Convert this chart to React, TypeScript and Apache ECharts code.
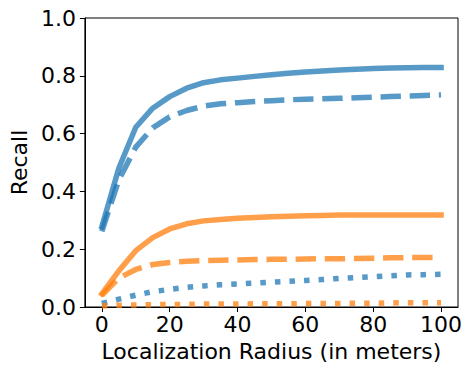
import React, { useEffect, useRef } from "react";
import * as echarts from "echarts";

const radii = [0, 5, 10, 15, 20, 25, 30, 35, 40, 45, 50, 55, 60, 65, 70, 75, 80, 85, 90, 95, 100];
const blueSolid = [0.278, 0.48, 0.622, 0.688, 0.728, 0.757, 0.776, 0.786, 0.792, 0.798, 0.804, 0.809, 0.813, 0.817, 0.82, 0.823, 0.825, 0.827, 0.828, 0.829, 0.829];
const blueDashed = [0.262, 0.44, 0.553, 0.62, 0.658, 0.68, 0.695, 0.703, 0.707, 0.711, 0.714, 0.717, 0.719, 0.721, 0.722, 0.724, 0.726, 0.728, 0.73, 0.732, 0.734];
const blueDotted = [0.012, 0.027, 0.041, 0.053, 0.061, 0.068, 0.073, 0.077, 0.08, 0.083, 0.086, 0.089, 0.092, 0.095, 0.099, 0.102, 0.105, 0.108, 0.111, 0.112, 0.113];
const orangeSolid = [0.045, 0.125, 0.195, 0.24, 0.27, 0.288, 0.298, 0.303, 0.307, 0.31, 0.312, 0.314, 0.316, 0.317, 0.318, 0.318, 0.318, 0.318, 0.318, 0.318, 0.318];
const orangeDashed = [0.04, 0.1, 0.13, 0.147, 0.154, 0.158, 0.161, 0.162, 0.163, 0.164, 0.165, 0.165, 0.166, 0.167, 0.167, 0.168, 0.169, 0.17, 0.171, 0.171, 0.172];
const orangeDotted = [0.004, 0.006, 0.007, 0.008, 0.009, 0.009, 0.01, 0.01, 0.01, 0.011, 0.011, 0.011, 0.012, 0.012, 0.012, 0.013, 0.013, 0.014, 0.015, 0.015, 0.015];
const xTicks = [0, 20, 40, 60, 80, 100];

const BLUE = "#1f77b4";
const ORANGE = "#ff7f0e";
const LW = 5.5;
const FONT = "DejaVu Sans";
const FS = 22;

function mk(name: string, vals: number[], color: string, kind: "solid" | "dashed" | "dotted") {
  const type: any =
    kind === "solid" ? "solid" : kind === "dashed" ? [3.7 * LW, 1.6 * LW] : [1 * LW, 1.65 * LW];
  return {
    name,
    type: "line",
    symbol: "none",
    data: radii.map((r, i) => [r, vals[i]]),
    lineStyle: { color, width: LW, opacity: 0.75, type, cap: kind === "solid" ? "square" : "butt", join: "round" },
    itemStyle: { color },
    clip: false,
    silent: true,
  };
}

export default function App() {
  const ref = useRef<HTMLDivElement>(null);
  useEffect(() => {
    if (!ref.current) return;
    const chart = echarts.init(ref.current, undefined, { renderer: "svg" });
    chart.setOption({
      animation: false,
      textStyle: { fontFamily: FONT },
      grid: { left: 82, top: 18, width: 376, height: 289, show: true, borderColor: "#000", borderWidth: 1, backgroundColor: "transparent" },
      xAxis: {
        type: "value",
        min: -5,
        max: 105,
        name: "Localization Radius (in meters)",
        nameLocation: "middle",
        nameGap: 33,
        nameTextStyle: { fontFamily: FONT, fontSize: FS, color: "#000" },
        axisLine: { show: true, onZero: false, lineStyle: { color: "#000", width: 1 } },
        axisTick: { show: true, customValues: xTicks, length: 5, inside: false, lineStyle: { color: "#000", width: 1 } },
        axisLabel: { customValues: xTicks, fontFamily: FONT, fontSize: FS, color: "#000", margin: 6 },
        splitLine: { show: false },
      },
      yAxis: {
        type: "value",
        min: 0,
        max: 1,
        interval: 0.2,
        name: "Recall",
        nameLocation: "middle",
        nameGap: 51,
        nameRotate: 90,
        nameTextStyle: { fontFamily: FONT, fontSize: FS, color: "#000" },
        axisLine: { show: true, onZero: false, lineStyle: { color: "#000", width: 1 } },
        axisTick: { show: true, length: 5, inside: false, lineStyle: { color: "#000", width: 1 } },
        axisLabel: { fontFamily: FONT, fontSize: FS, color: "#000", margin: 9, formatter: (v: number) => v.toFixed(1) },
        splitLine: { show: false },
      },
      series: [
        mk("blue solid", blueSolid, BLUE, "solid"),
        mk("blue dashed", blueDashed, BLUE, "dashed"),
        mk("blue dotted", blueDotted, BLUE, "dotted"),
        mk("orange solid", orangeSolid, ORANGE, "solid"),
        mk("orange dashed", orangeDashed, ORANGE, "dashed"),
        mk("orange dotted", orangeDotted, ORANGE, "dotted"),
      ],
    });
    return () => chart.dispose();
  }, []);
  return <div ref={ref} style={{ position: "fixed", left: 0, top: 0, width: 472, height: 372, background: "#fff" }} />;
}
